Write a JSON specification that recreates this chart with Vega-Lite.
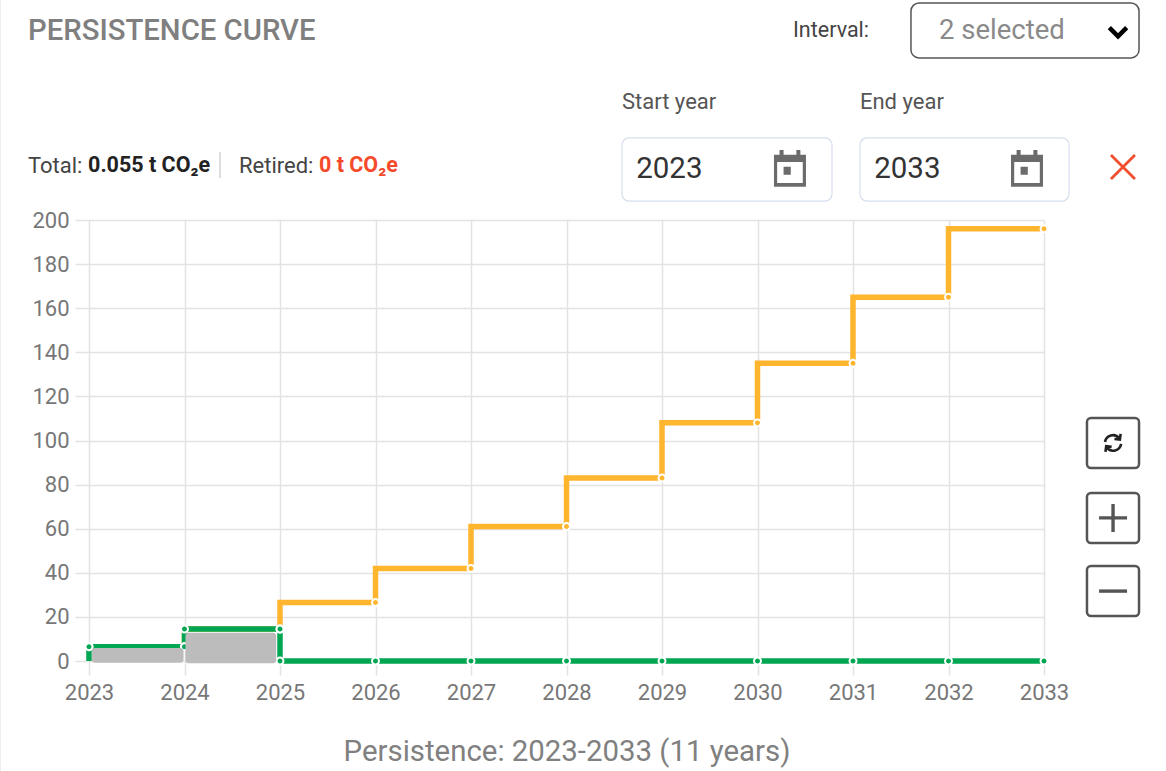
{
"$schema":"https://vega.github.io/schema/vega-lite/v6.json",
"width":955,"height":441,
"autosize":{"type":"none"},
"padding":{"left":89,"top":220,"right":122,"bottom":110},
"background":"white",
"config":{"view":{"stroke":null},"font":"Roboto"},
"datasets":{
"series":[
{"year":2023,"value":6.5,"series":"Projected","kind":"step"},
{"year":2024,"value":6.5,"series":"Projected","kind":"step"},
{"year":2025,"value":14.5,"series":"Projected","kind":"step"},
{"year":2026,"value":26.5,"series":"Projected","kind":"step"},
{"year":2027,"value":42,"series":"Projected","kind":"step"},
{"year":2028,"value":61,"series":"Projected","kind":"step"},
{"year":2029,"value":83,"series":"Projected","kind":"step"},
{"year":2030,"value":108,"series":"Projected","kind":"step"},
{"year":2031,"value":135,"series":"Projected","kind":"step"},
{"year":2032,"value":165,"series":"Projected","kind":"step"},
{"year":2033,"value":196,"series":"Projected","kind":"step"},
{"year":2023,"value":0,"series":"Issued","kind":"base"},
{"year":2024,"value":6.5,"series":"Issued","kind":"step"},
{"year":2025,"value":14.5,"series":"Issued","kind":"step"},
{"year":2026,"value":0,"series":"Issued","kind":"step"},
{"year":2027,"value":0,"series":"Issued","kind":"step"},
{"year":2028,"value":0,"series":"Issued","kind":"step"},
{"year":2029,"value":0,"series":"Issued","kind":"step"},
{"year":2030,"value":0,"series":"Issued","kind":"step"},
{"year":2031,"value":0,"series":"Issued","kind":"step"},
{"year":2032,"value":0,"series":"Issued","kind":"step"},
{"year":2033,"value":0,"series":"Issued","kind":"step"},
{"year":2023,"value":6.5,"series":"Issued","kind":"vertex"},
{"year":2024,"value":14.5,"series":"Issued","kind":"vertex"},
{"year":2025,"value":0,"series":"Issued","kind":"vertex"}
],
"bars":[
{"start":2023.03,"end":2023.99,"low":-0.8,"high":5.9},
{"start":2024.01,"end":2024.96,"low":-1,"high":12.8}
]
},
"layer":[
{"data":{"values":[{"name":"edge"}]},"mark":{"type":"rule","color":"#eeeeee","strokeWidth":1},
 "encoding":{"x":{"datum":2022.073,"type":"quantitative"},"y":{"datum":-49.9,"type":"quantitative"},"y2":{"datum":299.8}}},
{"data":{"name":"series"},"transform":[{"filter":"datum.kind !== 'vertex'"}],
 "mark":{"type":"line","interpolate":"step-before","strokeWidth":5.5,"strokeJoin":"miter"},
 "encoding":{
  "x":{"field":"year","type":"quantitative","title":"Persistence: 2023-2033 (11 years)","scale":{"domain":[2023,2033],"nice":false,"zero":false},
   "axis":{"values":[2023,2024,2025,2026,2027,2028,2029,2030,2031,2032,2033],"format":"d","grid":true,"gridColor":"#e3e3e3","gridWidth":1.5,"domain":false,"tickColor":"#e3e3e3","tickWidth":1.5,"tickSize":14,"labelFont":"Roboto","labelFontSize":22,"labelColor":"#777777","labelPadding":7,"labelFlush":false,"labelOverlap":false,"titleFont":"Roboto","titleFontSize":29.4,"titleFontWeight":"normal","titleColor":"#808080","titlePadding":34}},
  "y":{"field":"value","type":"quantitative","title":null,"scale":{"domain":[0,200],"nice":false,"zero":false},
   "axis":{"values":[0,20,40,60,80,100,120,140,160,180,200],"grid":true,"gridColor":"#e3e3e3","gridWidth":1.5,"domain":false,"tickColor":"#e3e3e3","tickWidth":1.5,"tickSize":14,"labelFont":"Roboto","labelFontSize":22,"labelColor":"#777777","labelPadding":6,"labelOverlap":false}},
  "color":{"field":"series","type":"nominal","legend":null,"scale":{"domain":["Projected","Issued"],"range":["#ffb52e","#00a651"]}},
  "order":{"field":"year"}
 }},
{"data":{"name":"series"},"transform":[{"filter":"datum.kind !== 'base'"}],
 "mark":{"type":"point","filled":true,"stroke":"white","strokeWidth":2,"opacity":1,"size":48},
 "encoding":{"x":{"field":"year","type":"quantitative"},"y":{"field":"value","type":"quantitative"},
  "color":{"field":"series","type":"nominal","legend":null}}},
{"data":{"name":"bars"},"mark":{"type":"rect","fill":"#bcbcbc","cornerRadius":3},
 "encoding":{"x":{"field":"start","type":"quantitative"},"x2":{"field":"end"},"y":{"field":"low","type":"quantitative"},"y2":{"field":"high"}}},

{"data":{"values":[{"name":"interval select"}]},"mark":{"type":"rect","fill":"white","stroke":"#555555","strokeWidth":1.5,"cornerRadius":8},
 "encoding":{"x":{"datum":2031.607,"type":"quantitative"},"x2":{"datum":2033.995},"y":{"datum":298.4,"type":"quantitative"},"y2":{"datum":273.5}}},
{"data":{"values":[{"name":"start box"}]},"mark":{"type":"rect","fill":"white","stroke":"#d6deee","strokeWidth":1.2,"cornerRadius":7},
 "encoding":{"x":{"datum":2028.581,"type":"quantitative"},"x2":{"datum":2030.78},"y":{"datum":237.2,"type":"quantitative"},"y2":{"datum":208.6}}},
{"data":{"values":[{"name":"end box"}]},"mark":{"type":"rect","fill":"white","stroke":"#d6deee","strokeWidth":1.2,"cornerRadius":7},
 "encoding":{"x":{"datum":2031.073,"type":"quantitative"},"x2":{"datum":2033.262},"y":{"datum":237.2,"type":"quantitative"},"y2":{"datum":208.6}}},
{"data":{"values":[{"name":"refresh button"}]},"mark":{"type":"rect","fill":"white","stroke":"#555555","strokeWidth":2.5,"cornerRadius":4},
 "encoding":{"x":{"datum":2033.45,"type":"quantitative"},"x2":{"datum":2033.995},"y":{"datum":110.2,"type":"quantitative"},"y2":{"datum":87.5}}},
{"data":{"values":[{"name":"plus button"}]},"mark":{"type":"rect","fill":"white","stroke":"#555555","strokeWidth":2.5,"cornerRadius":4},
 "encoding":{"x":{"datum":2033.45,"type":"quantitative"},"x2":{"datum":2033.995},"y":{"datum":76.2,"type":"quantitative"},"y2":{"datum":53.5}}},
{"data":{"values":[{"name":"minus button"}]},"mark":{"type":"rect","fill":"white","stroke":"#555555","strokeWidth":2.5,"cornerRadius":4},
 "encoding":{"x":{"datum":2033.45,"type":"quantitative"},"x2":{"datum":2033.995},"y":{"datum":43.1,"type":"quantitative"},"y2":{"datum":20.4}}},
{"data":{"values":[{"name":"separator"}]},"mark":{"type":"rule","color":"#bbbbbb","strokeWidth":1},
 "encoding":{"x":{"datum":2024.372,"type":"quantitative"},"y":{"datum":230.8,"type":"quantitative"},"y2":{"datum":219}}},

{"data":{"values":[{"name":"calendar start"}]},"mark":{"type":"point","filled":true,"fill":"#6b6b6b","strokeWidth":0,"opacity":1,"size":1024,"shape":"M-1,-.85H-.65V-1.15H-.4V-.85H.4V-1.15H.65V-.85H1V1.15H-1ZM-.8,-.4V.92H.8V-.4ZM-.4,-.1H.05V.4H-.4Z"},
 "encoding":{"x":{"datum":2030.34,"type":"quantitative"},"y":{"datum":223.4,"type":"quantitative"}}},
{"data":{"values":[{"name":"calendar end"}]},"mark":{"type":"point","filled":true,"fill":"#6b6b6b","strokeWidth":0,"opacity":1,"size":1024,"shape":"M-1,-.85H-.65V-1.15H-.4V-.85H.4V-1.15H.65V-.85H1V1.15H-1ZM-.8,-.4V.92H.8V-.4ZM-.4,-.1H.05V.4H-.4Z"},
 "encoding":{"x":{"datum":2032.822,"type":"quantitative"},"y":{"datum":223.4,"type":"quantitative"}}},
{"data":{"values":[{"name":"clear"}]},"mark":{"type":"point","filled":false,"stroke":"#f04e2e","strokeWidth":2.8,"opacity":1,"size":576,"shape":"M-1,-1L1,1M-1,1L1,-1"},
 "encoding":{"x":{"datum":2033.827,"type":"quantitative"},"y":{"datum":224,"type":"quantitative"}}},
{"data":{"values":[{"name":"chevron"}]},"mark":{"type":"point","filled":false,"stroke":"#000000","strokeWidth":4.5,"opacity":1,"size":300,"shape":"M-1,-.5L0,.5L1,-.5"},
 "encoding":{"x":{"datum":2033.775,"type":"quantitative"},"y":{"datum":285.3,"type":"quantitative"}}},
{"data":{"values":[{"name":"refresh"}]},"mark":{"type":"point","filled":false,"stroke":"#222222","strokeWidth":2.6,"opacity":1,"size":360,"shape":"M-.85,-.1A.85,.85 0 0 1 .65,-.5M.85,.1A.85,.85 0 0 1 -.65,.5M.8,-.95L.72,-.35L.15,-.42M-.8,.95L-.72,.35L-.15,.42"},
 "encoding":{"x":{"datum":2033.723,"type":"quantitative"},"y":{"datum":98.9,"type":"quantitative"}}},
{"data":{"values":[{"name":"plus"}]},"mark":{"type":"point","filled":false,"stroke":"#555555","strokeWidth":3.4,"opacity":1,"size":784,"shape":"M-1,0L1,0M0,-1L0,1"},
 "encoding":{"x":{"datum":2033.723,"type":"quantitative"},"y":{"datum":64.9,"type":"quantitative"}}},
{"data":{"values":[{"name":"minus"}]},"mark":{"type":"point","filled":false,"stroke":"#555555","strokeWidth":3.4,"opacity":1,"size":784,"shape":"M-1,0L1,0"},
 "encoding":{"x":{"datum":2033.723,"type":"quantitative"},"y":{"datum":31.7,"type":"quantitative"}}},

{"data":{"values":[{"label":"PERSISTENCE CURVE"}]},"mark":{"type":"text","align":"left","baseline":"middle","font":"Roboto","fontSize":29.3,"fontWeight":500,"color":"#7f7f7f"},
 "encoding":{"text":{"field":"label"},"x":{"datum":2022.361,"type":"quantitative"},"y":{"datum":285.5,"type":"quantitative"}}},
{"data":{"values":[{"label":"Interval:"}]},"mark":{"type":"text","align":"left","baseline":"middle","font":"Roboto","fontSize":21.5,"color":"#444444"},
 "encoding":{"text":{"field":"label"},"x":{"datum":2030.372,"type":"quantitative"},"y":{"datum":285.8,"type":"quantitative"}}},
{"data":{"values":[{"label":"2 selected"}]},"mark":{"type":"text","align":"left","baseline":"middle","font":"Roboto","fontSize":27.5,"color":"#8a8a8a"},
 "encoding":{"text":{"field":"label"},"x":{"datum":2031.901,"type":"quantitative"},"y":{"datum":285.5,"type":"quantitative"}}},
{"data":{"values":[{"label":"Start year"}]},"mark":{"type":"text","align":"left","baseline":"middle","font":"Roboto","fontSize":22,"color":"#555555"},
 "encoding":{"text":{"field":"label"},"x":{"datum":2028.581,"type":"quantitative"},"y":{"datum":253.5,"type":"quantitative"}}},
{"data":{"values":[{"label":"End year"}]},"mark":{"type":"text","align":"left","baseline":"middle","font":"Roboto","fontSize":22,"color":"#555555"},
 "encoding":{"text":{"field":"label"},"x":{"datum":2031.073,"type":"quantitative"},"y":{"datum":253.5,"type":"quantitative"}}},
{"data":{"values":[{"label":"2023"}]},"mark":{"type":"text","align":"left","baseline":"middle","font":"Roboto","fontSize":29.5,"color":"#333333"},
 "encoding":{"text":{"field":"label"},"x":{"datum":2028.73,"type":"quantitative"},"y":{"datum":223.2,"type":"quantitative"}}},
{"data":{"values":[{"label":"2033"}]},"mark":{"type":"text","align":"left","baseline":"middle","font":"Roboto","fontSize":29.5,"color":"#333333"},
 "encoding":{"text":{"field":"label"},"x":{"datum":2031.222,"type":"quantitative"},"y":{"datum":223.2,"type":"quantitative"}}},
{"data":{"values":[{"label":"Total:"}]},"mark":{"type":"text","align":"left","baseline":"middle","font":"Roboto","fontSize":22,"color":"#444444"},
 "encoding":{"text":{"field":"label"},"x":{"datum":2022.361,"type":"quantitative"},"y":{"datum":224.5,"type":"quantitative"}}},
{"data":{"values":[{"label":"0.055 t CO₂e"}]},"mark":{"type":"text","align":"left","baseline":"middle","font":"Roboto","fontSize":21.5,"fontWeight":"bold","color":"#222222"},
 "encoding":{"text":{"field":"label"},"x":{"datum":2022.99,"type":"quantitative"},"y":{"datum":224.5,"type":"quantitative"}}},
{"data":{"values":[{"label":"Retired:"}]},"mark":{"type":"text","align":"left","baseline":"middle","font":"Roboto","fontSize":22,"color":"#444444"},
 "encoding":{"text":{"field":"label"},"x":{"datum":2024.571,"type":"quantitative"},"y":{"datum":224.5,"type":"quantitative"}}},
{"data":{"values":[{"label":"0 t CO₂e"}]},"mark":{"type":"text","align":"left","baseline":"middle","font":"Roboto","fontSize":21.5,"fontWeight":"bold","color":"#f44a2b"},
 "encoding":{"text":{"field":"label"},"x":{"datum":2025.408,"type":"quantitative"},"y":{"datum":224.5,"type":"quantitative"}}}
]
}
